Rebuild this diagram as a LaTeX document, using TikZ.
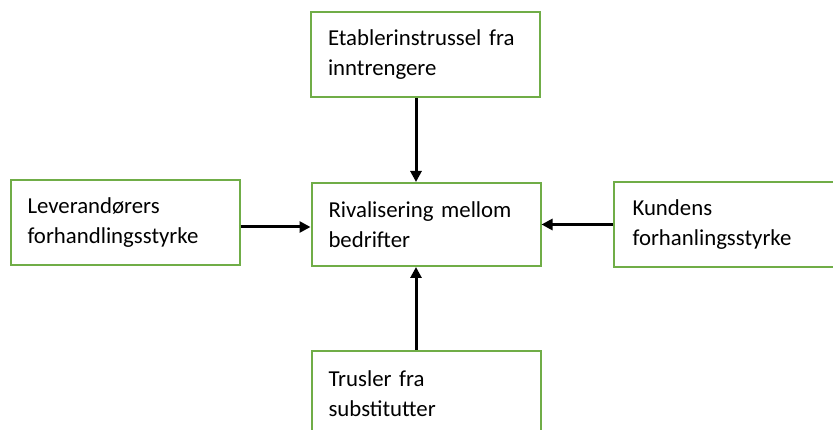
\documentclass[tikz,border=0pt]{standalone}
\usepackage{fontspec}
\setmainfont{Carlito}
\usetikzlibrary{arrows.meta}
\definecolor{boxgreen}{RGB}{112,173,71}
\newcommand\boxfont{\fontsize{22.8}{30}\selectfont\setlength{\spaceskip}{0.22em plus 0.05em}}
\begin{document}
\begin{tikzpicture}[x=1pt,y=-1pt,
  forcebox/.style={draw=boxgreen, line width=2pt, rectangle,
    minimum width=229pt, minimum height=85pt,
    inner xsep=17pt, inner ysep=0pt, text width=195pt, align=left,
    font=\boxfont},
  forcearrow/.style={draw=black, line width=3pt,
    -{Triangle[length=11pt,width=11pt]}}]
  \useasboundingbox[fill=white] (0,0) rectangle (833,430);

  \node[forcebox] (entrants)  at (425.5,54.5)  {Etablerinstrussel fra\\inntrengere};
  \node[forcebox, minimum height=83pt] (rivalry) at (426,224.5) {Rivalisering mellom\\bedrifter};
  \node[forcebox] (suppliers) at (125,222.5)   {Leverandørers\\forhandlingsstyrke};
  \node[forcebox, inner xsep=19pt, text width=191pt] (buyers) at (728,224.5) {Kundens\\forhanlingsstyrke};
  \node[forcebox] (substitutes) at (426,393.5) {Trusler fra\\substitutter};

  \draw[forcearrow] ([xshift=-9.5pt]entrants.south) -- ([xshift=-10pt]rivalry.north);
  \draw[forcearrow] ([xshift=-10pt]substitutes.north) -- ([xshift=-10pt]rivalry.south);
  \draw[forcearrow] ([yshift=-4.5pt]suppliers.east) -- ([yshift=-4.5pt]suppliers.east -| rivalry.west);
  \draw[forcearrow] (buyers.west) -- (buyers.west -| rivalry.east);
\end{tikzpicture}
\end{document}
